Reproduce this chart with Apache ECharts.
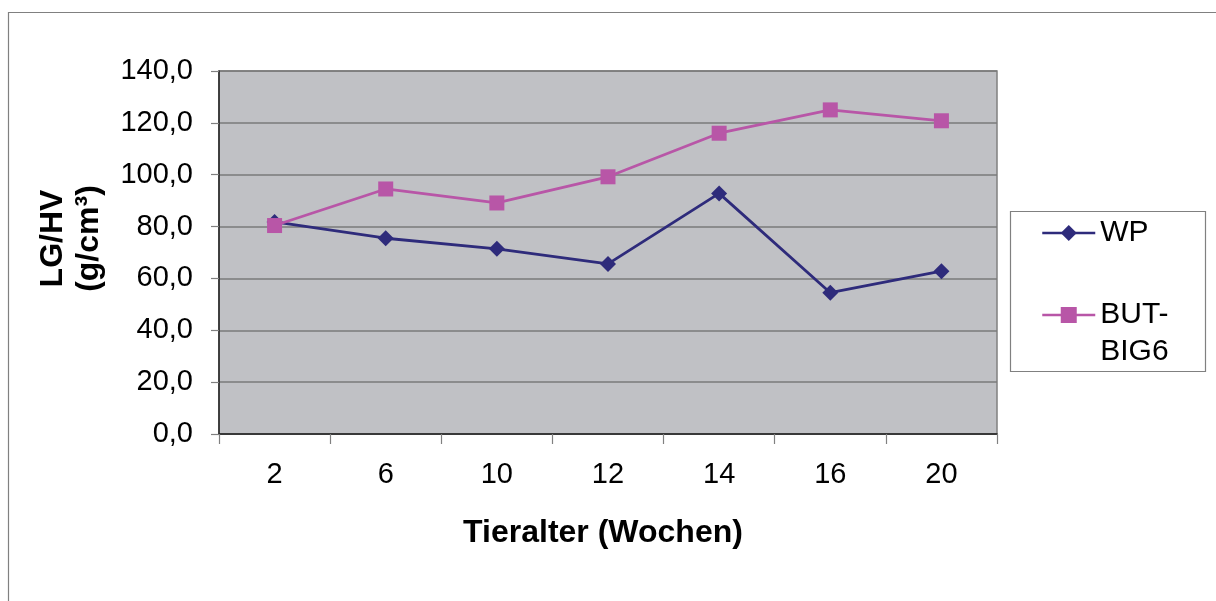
<!DOCTYPE html>
<html>
<head>
<meta charset="utf-8">
<script src="https://cdn.jsdelivr.net/npm/echarts@6/dist/echarts.min.js"></script>
<style>
  html, body { margin: 0; padding: 0; background: #fff; }
  #chart { width: 1216px; height: 601px; }
</style>
</head>
<body>
<div id="chart"></div>
<script>
// Tieralter in Wochen
const ageWeeks = ['2', '6', '10', '12', '14', '16', '20'];
// LG/HV (g/cm³) je Linie
const wpValues = [81.8, 75.5, 71.4, 65.6, 92.8, 54.5, 62.8];
const butBig6Values = [80.4, 94.5, 89.1, 99.2, 116.0, 125.0, 120.8];
const seriesNames = ['WP', 'BUT-BIG6'];

const FONT = '"Liberation Sans", Arial, sans-serif';
const WP_COLOR = '#2E2B7B';
const BUT_COLOR = '#B856A7';

const chart = echarts.init(document.getElementById('chart'));

const legendBase = {
  orient: 'vertical',
  left: 1041,
  padding: 0,
  itemWidth: 53,
  itemHeight: 20,
  lineStyle: { width: 2.5 },
  textStyle: { fontFamily: FONT, fontSize: 30, color: '#000', lineHeight: 37 }
};

chart.setOption({
  animation: false,
  backgroundColor: '#fff',
  graphic: [
    {
      type: 'rect',
      shape: { x: 8.5, y: 12.5, width: 1230, height: 620 },
      style: { fill: 'none', stroke: '#808080', lineWidth: 1.2 },
      silent: true, z: -10
    },
    {
      type: 'rect',
      shape: { x: 1010.5, y: 211.5, width: 195, height: 160 },
      style: { fill: '#fff', stroke: '#808080', lineWidth: 1.2 },
      silent: true, z: -5
    }
  ],
  grid: {
    left: 219, top: 71, right: 219, bottom: 167,
    show: true,
    backgroundColor: '#C0C1C5',
    borderColor: '#808080',
    borderWidth: 1.5
  },
  legend: [
    Object.assign({}, legendBase, {
      top: 233 - 18.5,
      data: [seriesNames[0]]
    }),
    Object.assign({}, legendBase, {
      top: 315 - 55.5,
      data: [seriesNames[1]],
      formatter: (name) => '\n' + name.replace('-', '-\n')
    })
  ],
  xAxis: {
    type: 'category',
    data: ageWeeks,
    boundaryGap: true,
    name: 'Tieralter (Wochen)',
    nameLocation: 'middle',
    nameGap: 83,
    nameTextStyle: { fontFamily: FONT, fontSize: 32, fontWeight: 'bold', color: '#000', padding: [0, 10, 0, 0] },
    axisLine: { lineStyle: { color: '#222', width: 1.5 } },
    axisTick: { show: true, length: 10, lineStyle: { color: '#808080', width: 1.2 } },
    axisLabel: { fontFamily: FONT, fontSize: 29, color: '#000', margin: 26 },
    splitLine: { show: false }
  },
  yAxis: {
    type: 'value',
    min: 0, max: 140, interval: 20,
    name: 'LG/HV\n(g/cm³)',
    nameLocation: 'middle',
    nameRotate: 90,
    nameGap: 112,
    nameTextStyle: {
      fontFamily: FONT, fontSize: 32, fontWeight: 'bold', color: '#000', lineHeight: 36,
      padding: [0, 0, 0, 28]
    },
    axisLine: { show: true, lineStyle: { color: '#222', width: 1.5 } },
    axisTick: { show: true, length: 8, lineStyle: { color: '#808080', width: 1.2 } },
    axisLabel: {
      fontFamily: FONT, fontSize: 29, color: '#000', margin: 26,
      formatter: (v) => v.toFixed(1).replace('.', ',')
    },
    splitLine: { lineStyle: { color: '#7A7A7A', width: 1.5 } }
  },
  series: [
    {
      name: seriesNames[0],
      type: 'line',
      data: wpValues,
      symbol: 'diamond',
      symbolSize: 16,
      lineStyle: { color: WP_COLOR, width: 2.8 },
      itemStyle: { color: WP_COLOR },
      z: 3
    },
    {
      name: seriesNames[1],
      type: 'line',
      data: butBig6Values,
      symbol: 'rect',
      symbolSize: 15,
      lineStyle: { color: BUT_COLOR, width: 2.8 },
      itemStyle: { color: BUT_COLOR },
      z: 4
    }
  ]
});
</script>
</body>
</html>
